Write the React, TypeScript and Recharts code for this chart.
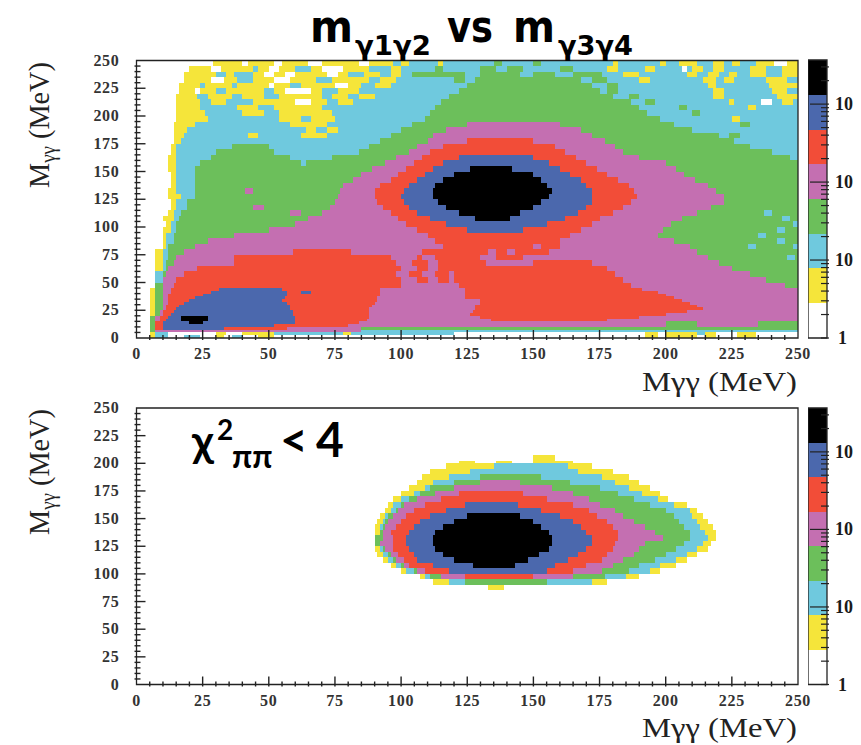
import { ComposedChart, ReferenceArea, XAxis, YAxis } from "recharts";

// each row: lower edge of the y bin | runs of "<x end><level>"
const topRows = [
  "245|29w 40y 42w 52y 55w 65y 70w 84y 88w 97y 100c 103y 114c 116y 135c 138g 150c 153g 180c 182y 198c 200y 205c 212y 218c 222y 225c 228y 234c 241y 246w 250y",
  "240|20w 28y 32w 44y 46c 50y 54w 60y 66c 70y 78w 88y 96c 100y 113c 116g 130c 136g 140c 146g 160c 165g 178c 182y 192c 196y 206c 208w 210c 214y 218c 222y 232c 238y 244c 250y",
  "235|18w 30y 34c 37y 44c 48y 52w 56y 60w 72y 76w 80y 86c 92y 96c 100y 104c 124g 130c 145g 150c 158g 165c 176g 184c 190y 208c 212y 216c 220y 224c 227y 232c 238y 244c 250y",
  "230|18w 28y 33w 38y 44c 52y 58w 68y 74c 88y 92c 98y 120c 124g 128c 168g 172c 178g 190c 194y 214c 219y 222c 226y 238c 246y 250c",
  "225|16w 24y 26c 36y 38c 50y 52w 58y 62c 75y 80w 85y 90c 96y 125c 172g 178c 182g 216c 219y 239c 250y",
  "220|16w 22y 24w 30y 34c 48y 52c 56y 66w 70y 76c 84y 122c 175g 178c 182g 218c 222y 240c 246y 250c",
  "215|15w 23y 27c 36y 40c 48y 54c 70y 74c 80y 84c 90y 118c 180g 186c 190g 218c 222y 242c 250y",
  "210|15w 24y 28c 34y 44c 60y 66w 72y 76c 82y 115c 187g 192c 196g 224c 226y 236c 240w 244c 248y 250c",
  "205|15w 24y 38c 46y 52c 70y 113c 190g 205c 208g 231c 234y 250c",
  "200|15w 26y 40c 48y 54c 74y 111c 193g 210c 213g 250c",
  "195|15w 27y 54c 62y 66c 75y 109c 198g 225c 228y 250c",
  "190|14w 22y 58c 72y 104c 125g 160p 203g 228c 232g 250c",
  "185|14w 19y 64c 68y 72c 76y 100c 117g 168p 210g 250c",
  "180|14w 18y 42c 46y 62c 72y 96c 112g 172p 220g 224c 228g 250c",
  "175|14w 17y 92c 110g 125p 150r 177p 226g 250c",
  "170|13w 15y 36c 50g 88c 106g 116p 158r 181p 232g 250c",
  "165|13w 15y 30c 52g 84c 103g 111p 162r 184p 240g 250c",
  "160|12w 15y 28c 58g 74c 98g 108p 122r 150b 166r 190p 247g 250c",
  "155|12w 15y 24c 62g 64c 94g 105p 116r 156b 170r 200p 250g",
  "150|12w 15y 22c 89g 102p 112r 126b 142k 160b 174r 204p 250g",
  "145|13w 15y 22c 85g 99p 109r 120b 150k 164b 178r 207p 250g",
  "140|13w 15y 22c 82g 96p 106r 116b 153k 168b 182r 211p 250g",
  "135|13w 15y 22c 78g 92p 103r 113b 155k 170b 186r 216p 250g",
  "130|12w 15y 22c 41g 44p 77g 90p 101r 112b 157k 172b 188r 219p 250g",
  "125|12w 17y 22c 76g 90p 100r 112b 156k 172b 189r 222p 250g",
  "120|13w 15y 19c 75g 91p 101r 114b 153k 172b 187r 222p 250g",
  "115|13w 15y 19c 44g 48p 73g 93p 103r 117b 150k 170b 184r 217p 250g",
  "110|12w 14y 17c 58g 62p 70g 96p 106r 122b 145k 167b 180r 212p 237g 240c 250g",
  "105|10w 14y 16c 65g 99p 111r 128b 141k 162b 175r 206p 244g 247c 250g",
  "100|11w 13y 15c 60g 102p 117r 155b 172r 202p 248g 250c",
  "95|10w 13y 15c 50g 106p 125r 146b 168r 199p 242g 245c 250g",
  "90|10w 11y 14c 37g 110p 164r 197p 235g 238c 250g",
  "85|10w 11y 14c 27g 113p 160r 203p 242g 245c 250g",
  "80|10w 11y 12c 22g 116p 150r 153p 160r 209p 231g 234c 248g 250c",
  "75|7w 10y 12c 18g 59p 81r 108p 133r 136p 140r 143p 156r 212p 250g",
  "70|7w 10y 12c 15g 37p 96r 106p 108r 113p 130r 136p 146r 152p 216p 246g 249c 250g",
  "65|7w 10y 11c 14g 37p 98r 104p 110r 114p 132r 150p 172r 220p 250g",
  "60|7w 10y 11c 12g 23p 100r 106p 110r 114p 178r 225p 250g",
  "55|7w 10c 11g 18p 98r 103p 108r 113p 118r 120p 181r 232p 250g",
  "50|7w 10c 15p 100r 106p 110r 114p 118r 120p 184r 238p 250g",
  "45|7w 10g 14p 100r 122p 187r 245p 250g",
  "42.5|5w 7y 10g 13p 31r 55b 92r 124p 191r 250p",
  "40|5w 7y 10g 13p 28r 57b 62r 66b 92r 124p 197r 250p",
  "37.5|5w 7y 10g 12p 25r 57b 92r 124p 200r 250p",
  "35|5w 7y 10g 12p 22r 56b 91r 124p 203r 250p",
  "32.5|5w 7y 10g 12p 20r 55b 91r 130p 206r 250p",
  "30|5w 7y 10g 12p 18r 57b 90r 130p 209r 250p",
  "27.5|5w 7y 10g 11p 16r 58b 89r 128p 212r 250p",
  "25|5w 7y 10g 11p 15r 58b 88r 128p 214r 250p",
  "22.5|5w 7y 9g 10p 14r 59b 88r 127p 208r 250p",
  "20|5w 7y 9g 10p 13r 59b 88r 126p 200r 250p",
  "17.5|5w 7g 9p 12r 17b 27k 60b 88r 130p 190r 250p",
  "15|5w 7g 9p 11r 17b 27k 60b 87r 134p 178r 250p",
  "12.5|5w 7g 10r 20b 25k 60b 84r 200p 212g 235p 250g",
  "10|5w 7g 10r 52b 80r 200p 212g 235p 250g",
  "7.5|5w 7g 10r 33b 57r 85p 250g",
  "5|5w 7g 85p 250c",
  "2.5|5w 7y 12c 30w 34y 40w 52y 78c 81y 120c 192w 197y 200w 212y 215c 219y 227w 234y 250w",
  "0|5w 7y 12c 18w 24c 30w 33y 36w 40c 46w 52y 192w 197y 200w 212y 215w 219y 227w 234y 250w",
];

const bottomRows = [
  "202.5|150w 158y",
  "200|122w 128y 136w 142y 150w 165y",
  "195|117w 135y 163c 172y",
  "190|111w 126y 167c 180y",
  "185|108w 118y 130c 153g 176c 186y",
  "180|106w 112y 120c 130g 145p 164g 181c 190y",
  "175|103w 109y 111c 120g 157p 175g 186c 194y",
  "170|100w 105y 107c 113g 122p 146r 165p 182g 191c 198y",
  "165|97w 100y 103c 106g 115p 155r 171p 188g 197c 201y",
  "160|95w 97y 100c 101g 109p 124r 144b 165r 175p 194g 203c 208y",
  "155|94w 96y 98c 99g 105p 117r 153b 171r 181p 200g 209c 212y",
  "150|92w 94y 95c 97g 102p 111r 125b 145k 160b 174r 184p 203g 210c 214y",
  "145|91w 93y 94c 95g 100p 107r 120b 150k 165b 178r 188p 205g 212c 216y",
  "140|90w 92y 93c 94g 98p 105r 116b 153k 168b 180r 192p 207g 213c 218y",
  "135|90w 92y 93g 96p 103r 113b 156k 170b 182r 196p 209g 215c 219y",
  "130|90w 93g 97p 102r 112b 157k 172b 182r 199p 209g 216c 219y",
  "125|90w 92g 97p 102r 112b 157k 172b 181r 192p 207g 214c 217y",
  "120|90w 92y 93c 94g 97p 103r 113b 156k 170b 180r 190p 204g 212c 216y",
  "115|91w 93y 95c 96g 99p 105r 116b 152k 167b 178r 188p 200g 208c 212y",
  "110|93w 95y 97c 98g 101p 106r 120b 148k 163b 176r 184p 196g 204c 208y",
  "105|96w 98y 100c 101g 103p 112r 127b 143k 158b 170r 180p 190g 198c 204y",
  "100|100w 102y 105c 106g 109p 118r 155b 165r 176p 186g 194c 198y",
  "95|107w 109y 111c 115g 124p 150r 165p 177g 185c 190y",
  "90|112w 118y 124c 155g 172c 178y",
  "85|133w 139y",
];

const levelColors: Record<string, string> = {
  w: "#ffffff",
  y: "#f5e53a",
  c: "#6fc9de",
  g: "#6cbf5b",
  p: "#c46fb1",
  r: "#f24d38",
  b: "#4b68ad",
  k: "#000000",
};

const barLevels = ["w", "y", "c", "g", "p", "r", "b", "k"];
const barEdges = [1, 2.8, 7.8, 21.7, 60.6, 169, 472, 1318, 3680];
const barTicks = [1, 2, 3, 4, 5, 6, 7, 8, 9, 10, 20, 30, 40, 50, 60, 70, 80, 90, 100, 200, 300, 400, 500, 600, 700, 800, 900, 1000, 2000, 3000];
const barLabels: Record<number, string> = { 1: "1", 10: "10", 100: "10", 1000: "10" };
const massTicks = Array.from({ length: 51 }, (_, i) => i * 5);

const INK = "#222222";
const SERIF = "'Liberation Serif', serif";
const TITLE_FONT = "'DejaVu Sans', sans-serif";

function parseRows(rows: string[]) {
  const cells: { x1: number; x2: number; y1: number; y2: number; level: string }[] = [];
  let top = parseFloat(rows[0]) + 5;
  rows.forEach((row) => {
    const [low, runs] = row.split("|");
    const bottom = Number(low);
    let start = 0;
    runs.split(" ").forEach((run) => {
      const end = parseFloat(run);
      const level = run[run.length - 1];
      if (level !== "w") cells.push({ x1: start, x2: end, y1: bottom, y2: top, level });
      start = end;
    });
    top = bottom;
  });
  return cells;
}

const CrispRect = (p: any) => (
  <rect x={p.x} y={p.y} width={p.width} height={p.height} fill={p.fill} shapeRendering="crispEdges" />
);

const XTick = ({ x, y, payload }: any) => {
  const major = payload.value % 25 === 0;
  return (
    <g>
      {payload.value > 0 && payload.value < 250 && (
        <line x1={x} x2={x} y1={y} y2={y - (major ? 10 : 5)} stroke={INK} strokeWidth={1.4} />
      )}
      {major && (
        <text x={x} y={y + 19} textAnchor="middle" fontFamily={SERIF} fontWeight="bold" fontSize={16} letterSpacing={0.7} fill="#333">
          {payload.value}
        </text>
      )}
    </g>
  );
};

const YTick = ({ x, y, payload }: any) => {
  const major = payload.value % 25 === 0;
  return (
    <g>
      {payload.value > 0 && payload.value < 250 && (
        <line x1={x} x2={x + (major ? 11 : 6)} y1={y} y2={y} stroke={INK} strokeWidth={1.4} />
      )}
      {major && (
        <text x={x - 15} y={y + 5} textAnchor="end" fontFamily={SERIF} fontWeight="bold" fontSize={16} letterSpacing={0.7} fill="#333">
          {payload.value}
        </text>
      )}
    </g>
  );
};

const BarTick = ({ x, y, payload }: any) => {
  const label = barLabels[payload.value];
  return (
    <g>
      <line x1={x} x2={x - (label && payload.value > 1 ? 19 : 8)} y1={y} y2={y} stroke={INK} strokeWidth={1.2} />
      {label && (
        <text x={x + (label === "1" ? 9 : 6)} y={y + 6} fontFamily={SERIF} fontWeight="bold" fontSize={18} fill="#1a1a1a">
          {label}
        </text>
      )}
    </g>
  );
};

type PlotProps = { top: number; plotTop: number; plotBottom: number; height: number };

// the axes sit in a second, empty chart over the cells so the ticks stay visible on the colours
function Heatmap({ rows, top, plotTop, plotBottom, height }: PlotProps & { rows: string[] }) {
  const cells = parseRows(rows);
  const margin = { top: plotTop, right: 63, bottom: height - plotBottom - 30, left: 0.5 };
  const axes = (hidden: boolean) => [
    <XAxis
      key="x"
      type="number"
      dataKey="x"
      domain={[0, 250]}
      ticks={massTicks}
      interval={0}
      allowDataOverflow
      height={30}
      tickSize={0}
      tickLine={false}
      axisLine={false}
      tick={hidden ? false : XTick}
    />,
    <YAxis
      key="y"
      type="number"
      dataKey="y"
      domain={[0, 250]}
      ticks={massTicks}
      interval={0}
      allowDataOverflow
      width={136}
      tickSize={0}
      tickLine={false}
      axisLine={false}
      tick={hidden ? false : YTick}
    />,
  ];
  return (
    <>
      <div style={{ position: "absolute", left: 0, top }}>
        <ComposedChart width={861} height={height} margin={margin}>
          {axes(true)}
          {cells.map((c, i) => (
            <ReferenceArea key={i} x1={c.x1} x2={c.x2} y1={c.y1} y2={c.y2} fill={levelColors[c.level]} fillOpacity={1} shape={CrispRect} />
          ))}
        </ComposedChart>
      </div>
      <div style={{ position: "absolute", left: 0, top }}>
        <ComposedChart width={861} height={height} margin={margin}>
          {axes(false)}
          <ReferenceArea x1={0} x2={250} y1={0} y2={250} fill="none" stroke={INK} strokeWidth={1.3} />
        </ComposedChart>
      </div>
    </>
  );
}

function ColorBar({ top, plotTop, plotBottom, height }: PlotProps) {
  const margin = { top: plotTop, right: 0, bottom: height - plotBottom, left: 0 };
  const axes = (hidden: boolean) => [
    <XAxis key="x" type="number" dataKey="x" domain={[0, 1]} allowDataOverflow hide />,
    <YAxis
      key="y"
      type="number"
      dataKey="y"
      orientation="right"
      scale="log"
      domain={[1, 3680]}
      ticks={barTicks}
      interval={0}
      allowDataOverflow
      width={34}
      tickSize={0}
      tickLine={false}
      axisLine={false}
      tick={hidden ? false : BarTick}
    />,
  ];
  return (
    <>
      <div style={{ position: "absolute", left: 808, top }}>
        <ComposedChart width={53} height={height} margin={margin}>
          {axes(true)}
          {barLevels.map((level, i) => (
            <ReferenceArea key={level} x1={0} x2={1} y1={barEdges[i]} y2={barEdges[i + 1]} fill={levelColors[level]} fillOpacity={1} shape={CrispRect} />
          ))}
        </ComposedChart>
      </div>
      <div style={{ position: "absolute", left: 808, top }}>
        <ComposedChart width={53} height={height} margin={margin}>
          {axes(false)}
          <ReferenceArea x1={0} x2={1} y1={1} y2={3680} fill="none" stroke={INK} strokeWidth={1.3} />
        </ComposedChart>
      </div>
    </>
  );
}

const XLabel = ({ y }: { y: number }) => (
  <text x={642} y={y} fontFamily={SERIF} fontSize={28} fill="#222" textLength={155} lengthAdjust="spacingAndGlyphs">
    Mγγ (MeV)
  </text>
);

const YLabel = ({ y }: { y: number }) => (
  <text transform={`translate(49,${y}) rotate(-90)`} fontFamily={SERIF} fontSize={30} fill="#222" textLength={126} lengthAdjust="spacingAndGlyphs">
    M<tspan fontSize={20} dy={6}>γγ</tspan>
    <tspan dy={-6}> (MeV)</tspan>
  </text>
);

const TitlePart = ({ x, y, size, len, children }: { x: number; y: number; size: number; len: number; children: string }) => (
  <text x={x} y={y} fontFamily={TITLE_FONT} fontWeight="bold" fontSize={size} fill="#000" textLength={len} lengthAdjust="spacingAndGlyphs">
    {children}
  </text>
);

export default function App() {
  return (
    <div style={{ position: "absolute", left: 0, top: 0, width: 861, height: 745, background: "#fff", overflow: "hidden" }}>
      <Heatmap rows={topRows} top={0} plotTop={60.5} plotBottom={338} height={390} />
      <ColorBar top={0} plotTop={60} plotBottom={338} height={390} />
      <Heatmap rows={bottomRows} top={380} plotTop={28} plotBottom={304.5} height={365} />
      <ColorBar top={380} plotTop={28} plotBottom={304.5} height={365} />
      <svg width={861} height={745} style={{ position: "absolute", left: 0, top: 0, pointerEvents: "none" }}>
        <TitlePart x={310} y={42} size={45} len={43}>m</TitlePart>
        <TitlePart x={355} y={55} size={27} len={76}>γ1γ2</TitlePart>
        <TitlePart x={447} y={42} size={45} len={46}>vs</TitlePart>
        <TitlePart x={513} y={42} size={45} len={42}>m</TitlePart>
        <TitlePart x={558} y={55} size={27} len={75}>γ3γ4</TitlePart>
        <text fontFamily="Lato, 'Noto Sans', sans-serif" fontWeight="bold" fill="#000">
          <tspan x={192} y={457} fontSize={44}>χ</tspan>
          <tspan x={217} y={440} fontSize={28}>2</tspan>
          <tspan x={232} y={468} fontSize={32}>ππ</tspan>
          <tspan x={280} y={457} fontSize={48}>&lt;</tspan>
          <tspan x={316} y={457} fontSize={48}>4</tspan>
        </text>
        <XLabel y={391} />
        <XLabel y={737} />
        <YLabel y={188} />
        <YLabel y={535} />
      </svg>
    </div>
  );
}
